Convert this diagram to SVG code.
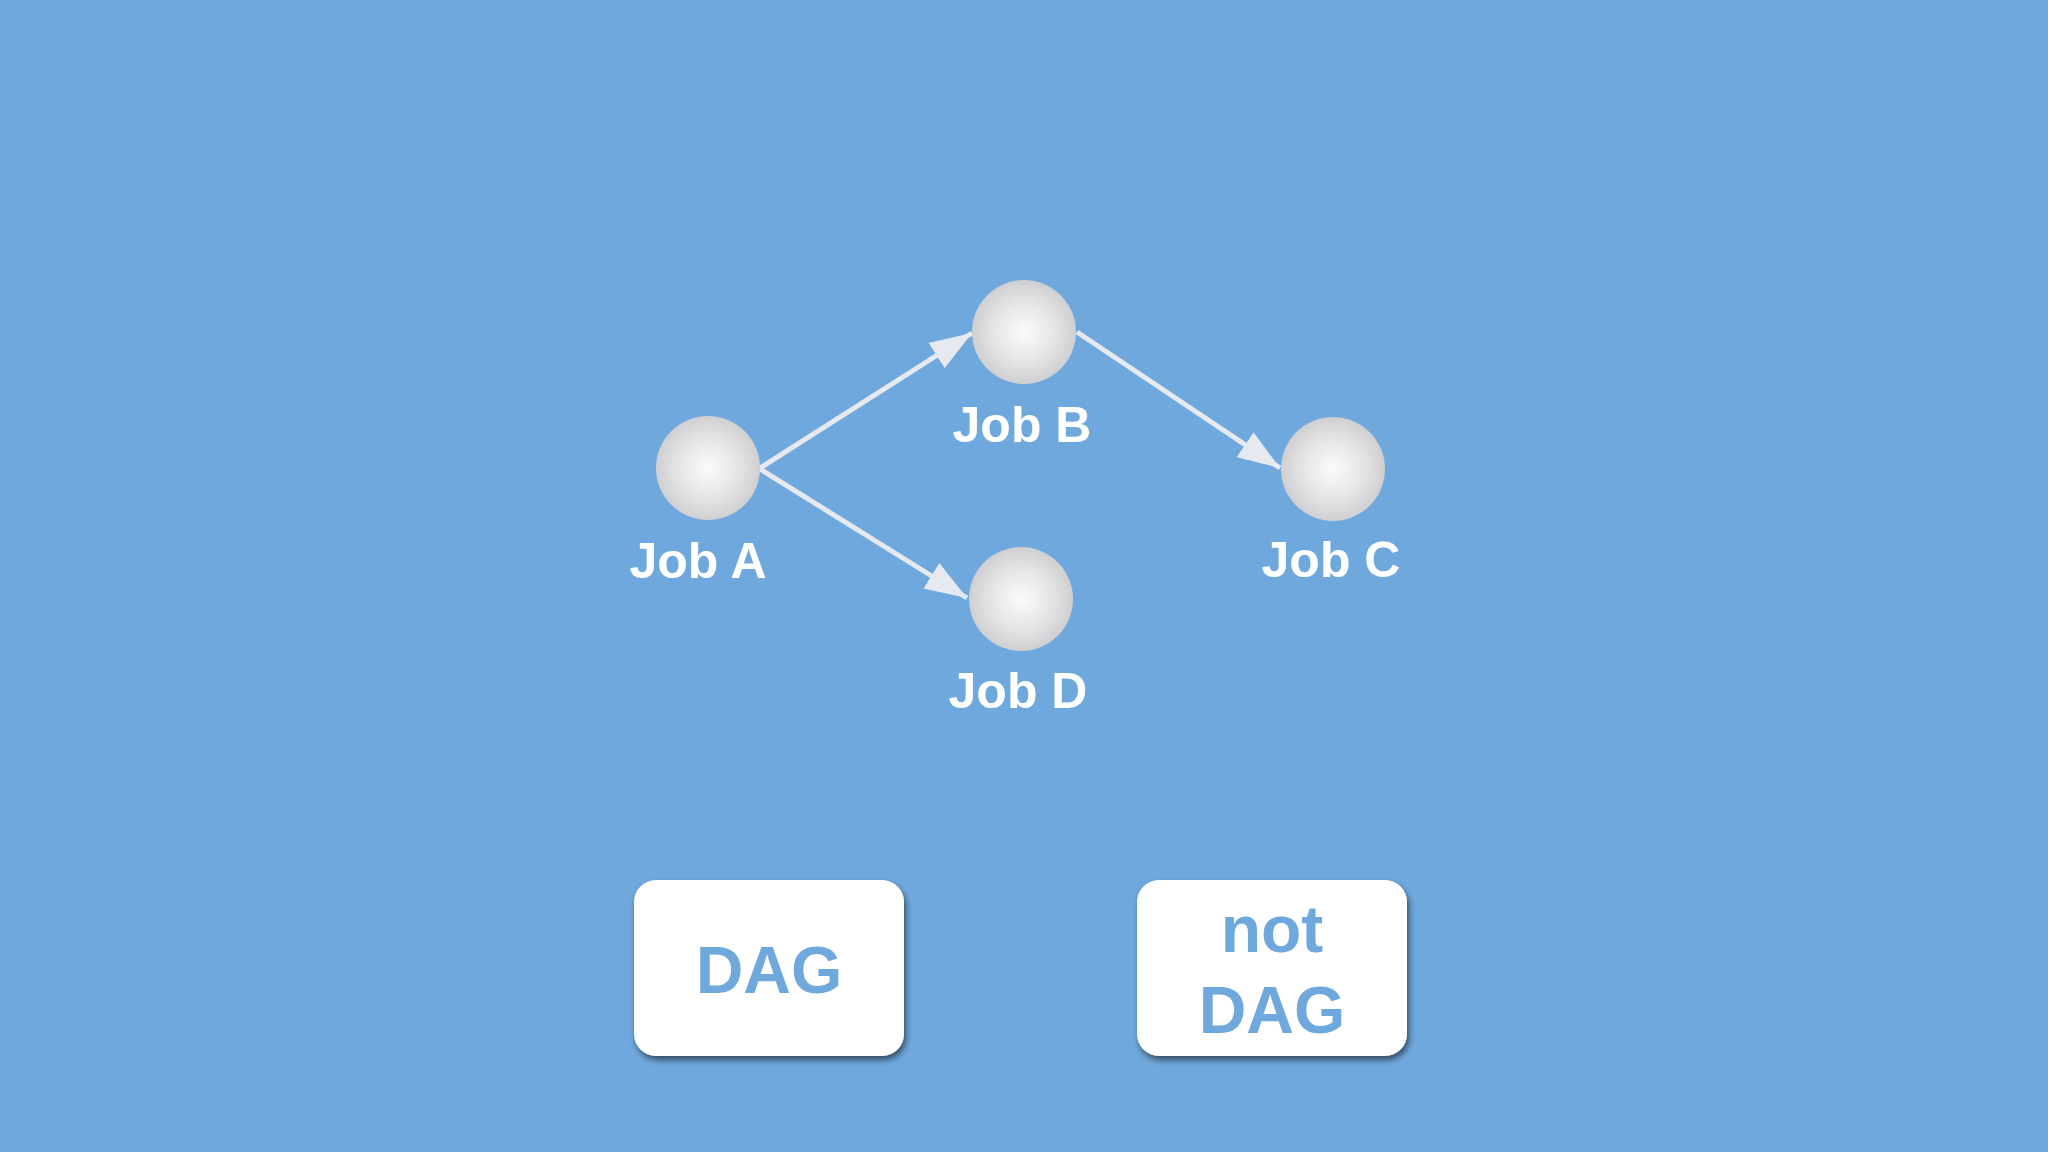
<svg xmlns="http://www.w3.org/2000/svg" width="2048" height="1152" viewBox="0 0 2048 1152">
<style>
.lbl{font-family:"Liberation Sans",Arial,sans-serif;font-weight:bold;font-size:50px;fill:#ffffff;text-anchor:middle}
.box{fill:#ffffff;filter:url(#sh)}
.btxt{font-family:"Liberation Sans",Arial,sans-serif;font-weight:bold;font-size:66px;fill:#6fa8dc;text-anchor:middle}
.edge{stroke:#e6e9ef;stroke-width:5;fill:none;marker-end:url(#ah)}
.ball{fill:url(#sphere)}
</style>
<defs>
<radialGradient id="sphere" cx="50%" cy="50%" r="50%">
<stop offset="0" stop-color="#fbfbfc"/>
<stop offset="0.6" stop-color="#e4e4e6"/>
<stop offset="1" stop-color="#cfcfd1"/>
</radialGradient>
<marker id="ah" markerWidth="42" markerHeight="30" refX="42" refY="15" orient="auto" markerUnits="userSpaceOnUse" viewBox="0 0 42 30">
<path d="M0,0 L42,15 L0,30 Z" fill="#e6e9ef"/>
</marker>
<filter id="sh" x="-10%" y="-10%" width="125%" height="130%">
<feGaussianBlur in="SourceAlpha" stdDeviation="3"/>
<feOffset dx="2" dy="4"/>
<feComponentTransfer><feFuncA type="linear" slope="0.55"/></feComponentTransfer>
<feMerge><feMergeNode/><feMergeNode in="SourceGraphic"/></feMerge>
</filter>
</defs>
<rect width="2048" height="1152" fill="#6fa8dc"/>
<g id="connectors">
<line class="edge" x1="760" y1="468" x2="972" y2="333"/>
<line class="edge" x1="760" y1="469" x2="967" y2="598"/>
<line class="edge" x1="1077" y1="332" x2="1280" y2="468"/>
</g>
<g id="jobA"><circle class="ball" cx="708" cy="468" r="52"/><text class="lbl" x="698" y="578">Job A</text></g>
<g id="jobB"><circle class="ball" cx="1024" cy="332" r="52"/><text class="lbl" x="1022" y="442">Job B</text></g>
<g id="jobC"><circle class="ball" cx="1333" cy="469" r="52"/><text class="lbl" x="1331" y="577">Job C</text></g>
<g id="jobD"><circle class="ball" cx="1021" cy="599" r="52"/><text class="lbl" x="1018" y="708">Job D</text></g>
<g id="dag"><rect class="box" x="634" y="880" width="270" height="176" rx="22"/><text class="btxt" x="769" y="993">DAG</text></g>
<g id="notdag"><rect class="box" x="1137" y="880" width="270" height="176" rx="22"/><text class="btxt" x="1272" y="952">not</text><text class="btxt" x="1272" y="1033">DAG</text></g>
</svg>
